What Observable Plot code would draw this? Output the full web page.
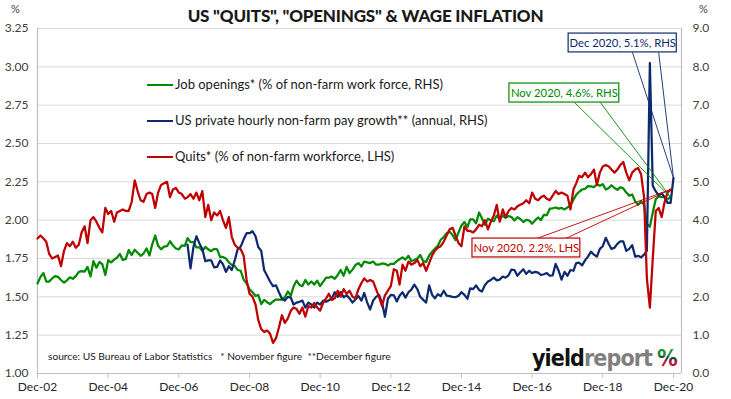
<!DOCTYPE html>
<html>
<head>
<meta charset="utf-8">
<script src="https://cdn.jsdelivr.net/npm/d3@7"></script>
<script src="https://cdn.jsdelivr.net/npm/@observablehq/plot@0.6"></script>
<style>
  body { margin: 0; background: #fff; }
  #wrap { position: relative; width: 731px; height: 399px; overflow: hidden; font-family: Lato, "Open Sans", sans-serif; color: #262626; }
  #chart { position: absolute; left: 0; top: 0; }
  .abs { position: absolute; white-space: nowrap; }
  #title { left: 0; width: 731px; top: 5px; text-align: center; font-weight: 900; font-size: 17px; line-height: 22px; color: #1a1a1a; letter-spacing: -0.2px; }
  .pct { top: 2px; font-size: 11px; color: #404040; }
  .leg { font-size: 13px; line-height: 16px; color: #1a1a1a; }
  .legline { position: absolute; width: 26px; height: 0; border-top: 2.5px solid; }
  #source { left: 48px; top: 350px; font-size: 10.2px; color: #1a1a1a; }
</style>
</head>
<body>
<div id="wrap">
  <div id="chart"></div>
  <div id="title" class="abs">US "QUITS", "OPENINGS" &amp; WAGE INFLATION</div>
  <div class="abs pct" style="left:11px">%</div>
  <div class="abs pct" style="left:699px">%</div>
  <div id="legend"></div>
  <div id="source" class="abs">source: US Bureau of Labor Statistics&nbsp;&nbsp;&nbsp;* November figure&nbsp;&nbsp;**December figure</div>
  <svg class="abs" style="left:528px;top:338px" width="165" height="34">
    <defs>
      <linearGradient id="pg" x1="0" y1="0" x2="0" y2="1">
        <stop offset="0" stop-color="#1e8a3a"/>
        <stop offset="0.42" stop-color="#1e8a3a"/>
        <stop offset="0.42" stop-color="#3a3a3a"/>
        <stop offset="0.62" stop-color="#3a3a3a"/>
        <stop offset="0.62" stop-color="#c8102e"/>
        <stop offset="1" stop-color="#c8102e"/>
      </linearGradient>
    </defs>
    <text x="4" y="28" font-family="'DejaVu Sans Condensed', 'DejaVu Sans'" font-weight="bold" font-size="23" letter-spacing="-0.9"><tspan fill="#111">yield</tspan><tspan fill="#7f7f7f">report</tspan><tspan dx="5" fill="url(#pg)">%</tspan></text>
  </svg>
</div>
<script>
// ---------------- DATA ----------------
// Monthly series, first value = Dec 2002 (pay growth starts Mar 2007)
const seriesStart = { year: 2002, month: 11 };
const payStartOffset = 51; // months after Dec 2002 -> Mar 2007

// Quits, % of non-farm workforce (LHS), Dec 2002 .. Nov 2020
const quits = [
  1.88,
  1.90,1.88,1.86,1.78,1.75,1.76,1.77,1.70,1.80,1.85,1.83,1.86,
  1.82,1.84,1.92,1.96,1.85,2.00,2.02,1.99,1.95,1.92,2.08,2.04,
  2.06,1.99,2.05,2.06,2.07,2.06,2.06,2.12,2.26,2.19,2.13,2.12,
  2.17,2.18,2.17,2.08,2.18,2.23,2.24,2.25,2.15,2.20,2.21,2.18,
  2.17,2.14,2.15,2.17,2.14,2.18,2.13,2.19,2.02,2.10,2.00,2.05,
  2.03,2.06,2.00,1.95,2.02,1.89,1.84,1.82,1.81,1.77,1.61,1.52,
  1.50,1.45,1.35,1.29,1.27,1.28,1.26,1.20,1.23,1.30,1.38,1.33,
  1.36,1.41,1.43,1.42,1.39,1.43,1.37,1.44,1.43,1.46,1.43,1.41,
  1.46,1.49,1.52,1.48,1.49,1.54,1.50,1.55,1.52,1.54,1.50,1.49,
  1.55,1.59,1.62,1.60,1.61,1.60,1.55,1.50,1.44,1.51,1.54,1.57,
  1.68,1.67,1.58,1.71,1.67,1.73,1.71,1.72,1.74,1.70,1.72,1.67,
  1.72,1.77,1.80,1.82,1.83,1.86,1.90,1.94,1.95,1.90,1.85,1.83,
  1.96,1.93,1.93,1.92,1.94,1.97,1.96,2.00,1.94,1.99,2.03,2.10,
  1.99,2.07,2.02,2.06,2.08,2.07,2.09,2.10,2.11,2.13,2.11,2.18,
  2.14,2.13,2.15,2.16,2.14,2.13,2.16,2.19,2.17,2.18,2.17,2.16,
  2.07,2.20,2.24,2.29,2.28,2.31,2.28,2.30,2.33,2.23,2.31,2.35,
  2.36,2.35,2.33,2.31,2.33,2.36,2.38,2.31,2.26,2.31,2.33,2.34,
  2.30,2.15,1.62,1.43,1.75,2.06,2.08,2.02,2.12,2.18,2.20
];

// Job openings, % of non-farm work force (RHS), Dec 2002 .. Nov 2020
const openings = [
  2.35,
  2.52,2.62,2.40,2.40,2.48,2.54,2.52,2.44,2.37,2.43,2.51,2.47,
  2.54,2.65,2.67,2.66,2.78,2.53,2.93,2.76,2.91,2.85,2.57,2.96,
  2.90,2.97,3.02,3.12,2.96,2.99,3.22,3.09,3.23,3.15,3.07,3.13,
  3.26,3.08,3.37,3.60,3.33,3.24,3.31,3.32,3.45,3.34,3.26,3.24,
  3.34,3.33,3.53,3.43,3.43,3.29,3.29,3.20,3.30,3.24,3.19,3.25,
  3.24,3.04,3.04,3.00,2.90,2.83,2.80,2.70,2.68,2.45,2.35,2.20,
  2.12,2.02,2.05,1.81,1.92,1.86,1.81,1.88,1.93,1.93,1.93,1.99,
  2.14,2.03,2.27,2.42,2.31,2.28,2.44,2.32,2.40,2.32,2.42,2.28,
  2.39,2.50,2.50,2.53,2.47,2.57,2.70,2.55,2.78,2.62,2.71,2.83,
  2.88,2.79,2.92,2.90,2.88,2.92,2.84,2.84,2.87,2.86,2.82,2.86,
  2.86,2.93,2.98,3.03,2.97,3.07,2.93,2.96,3.00,3.09,2.93,2.91,
  3.08,3.18,3.25,3.33,3.49,3.56,3.66,3.70,3.61,3.48,3.68,3.86,
  3.95,3.82,4.02,4.02,3.92,4.20,4.05,3.88,4.04,4.00,3.97,4.12,
  4.02,4.12,4.06,4.11,4.08,3.99,4.08,4.03,3.95,4.01,3.99,3.91,
  4.00,4.07,4.00,4.14,4.13,4.30,4.31,4.33,4.30,4.32,4.28,4.33,
  4.38,4.53,4.66,4.74,4.80,4.82,4.89,4.88,4.86,4.93,4.90,4.94,
  4.80,4.84,4.91,4.84,4.79,4.86,4.83,4.72,4.64,4.67,4.49,4.40,
  4.50,4.40,3.90,3.83,4.20,4.55,4.62,4.60,4.60,4.55,4.60
];

// US private hourly non-farm pay growth, % y/y (RHS), Mar 2007 .. Dec 2020
const payGrowth = [
  3.36,2.74,3.30,3.58,3.40,3.25,2.93,2.95,2.95,2.77,
  2.78,2.95,2.85,2.65,2.80,2.70,2.95,3.25,3.31,3.50,3.66,3.66,
  3.71,3.58,3.30,3.20,2.70,2.55,2.40,2.28,2.30,2.12,1.95,1.90,
  2.00,1.98,1.80,1.85,1.87,1.90,1.72,1.85,1.80,1.72,1.85,1.80,
  1.90,1.87,1.91,1.96,2.12,2.00,2.13,1.99,2.04,1.96,1.85,1.93,
  2.02,1.90,2.10,1.85,1.67,1.90,2.00,2.05,1.85,1.48,1.95,2.05,
  2.04,1.88,2.03,2.12,1.98,2.12,2.19,2.32,2.20,2.00,1.92,1.85,
  2.30,2.05,1.96,2.07,2.02,2.16,2.03,2.02,2.00,1.99,2.03,2.12,
  2.05,1.95,2.22,2.20,2.30,2.18,2.14,2.31,2.40,2.44,2.50,2.43,
  2.45,2.53,2.50,2.56,2.71,2.70,2.55,2.64,2.72,2.60,2.68,2.62,
  2.65,2.63,2.57,2.59,2.62,2.55,2.56,2.86,2.68,2.45,2.65,2.55,
  2.70,2.68,2.88,2.89,2.82,2.95,3.05,3.18,3.10,3.05,3.25,3.32,
  3.54,3.38,3.25,3.28,3.38,3.45,3.45,3.20,3.25,3.35,3.05,3.07,
  3.03,3.10,3.20,8.10,4.90,4.75,4.65,4.70,4.60,4.45,4.45,5.10
];

// Axis ticks
const lhsTicks = [1.00,1.25,1.50,1.75,2.00,2.25,2.50,2.75,3.00,3.25];
const xTickYears = [2002,2004,2006,2008,2010,2012,2014,2016,2018,2020];

// Series labels & colours
const seriesNames = [
  "Job openings* (% of non-farm work force, RHS)",
  "US private hourly non-farm pay growth** (annual, RHS)",
  "Quits* (% of non-farm workforce, LHS)"
];
const seriesColors = ["#008a00", "#0d2a6e", "#c00000"];

// Callouts: label, series, box extents (date, LHS-scale value), leader start dates
const callouts = [
  { label: "Dec 2020, 5.1%, RHS", series: 1, x1: "2017-12-13", x2: "2021-01-04", y1: 3.094, y2: 3.217, l1: "2019-10-04", l2: "2020-07-01", ly: 3.094 },
  { label: "Nov 2020, 4.6%, RHS", series: 0, x1: "2016-04-10", x2: "2019-05-21", y1: 2.767, y2: 2.891, l1: "2018-02-13", l2: "2018-11-07", ly: 2.767 },
  { label: "Nov 2020, 2.2%, LHS", series: 2, x1: "2015-03-25", x2: "2018-04-13", y1: 1.757, y2: 1.880, l1: "2017-01-16", l2: "2017-11-10", ly: 1.880 }
];

// ---------------- BUILD ----------------
const monthDate = i => new Date(Date.UTC(seriesStart.year, seriesStart.month + i, 1));
const rhsToLhs = v => v / 4 + 1;   // RHS 0..9  <->  LHS 1..3.25

const openData = openings.map((v, i) => ({ date: monthDate(i), y: rhsToLhs(v) }));
const payData = payGrowth.map((v, i) => ({ date: monthDate(i + payStartOffset), y: rhsToLhs(v) }));
const quitData = quits.map((v, i) => ({ date: monthDate(i), y: v }));
const allSeries = [openData, payData, quitData];

const xTicks = xTickYears.map(y => new Date(Date.UTC(y, 11, 1)));
const xDomain = [new Date(Date.UTC(2002, 11, 1)), new Date(Date.UTC(2021, 1, 22))];

const boxes = callouts.map(c => ({ ...c, color: seriesColors[c.series], x1: new Date(c.x1), x2: new Date(c.x2),
  xc: new Date((new Date(c.x1).getTime() + new Date(c.x2).getTime()) / 2), yc: (c.y1 + c.y2) / 2 }));
const leaders = [];
for (const b of boxes) {
  const last = allSeries[b.series][allSeries[b.series].length - 1];
  leaders.push({ x1: new Date(b.l1), y1: b.ly, x2: last.date, y2: last.y, color: b.color });
  leaders.push({ x1: new Date(b.l2), y1: b.ly, x2: last.date, y2: last.y, color: b.color });
}

const chart = Plot.plot({
  width: 731, height: 399,
  marginLeft: 37, marginRight: 50, marginTop: 28, marginBottom: 26,
  style: { fontFamily: "Lato, 'Open Sans', sans-serif", fontSize: "12px", color: "#404040", background: "transparent" },
  x: { type: "utc", domain: xDomain },
  y: { domain: [1, 3.25] },
  marks: [
    Plot.ruleY(lhsTicks, { stroke: "#d9d9d9", strokeWidth: 1 }),
    Plot.ruleX([xDomain[0]], { stroke: "#bfbfbf", strokeWidth: 1.2 }),
    Plot.ruleX([xDomain[1]], { stroke: "#bfbfbf", strokeWidth: 1.2 }),
    Plot.ruleY([1], { stroke: "#bfbfbf", strokeWidth: 1.2 }),
    Plot.axisY({ anchor: "left", ticks: lhsTicks, tickFormat: d3.format(".2f"), tickSize: 0, tickPadding: 9, label: null, fill: "#404040" }),
    Plot.axisY({ anchor: "right", ticks: lhsTicks, tickFormat: d => ((d - 1) * 4).toFixed(1), tickSize: 0, tickPadding: 11, label: null, fill: "#404040" }),
    Plot.axisX({ ticks: xTicks, tickFormat: d3.utcFormat("%b-%y"), tickSize: 5, tickPadding: 4, label: null, stroke: "#bfbfbf", fill: "#262626" }),
    Plot.line(openData, { x: "date", y: "y", stroke: seriesColors[0], strokeWidth: 2.25 }),
    Plot.line(payData, { x: "date", y: "y", stroke: seriesColors[1], strokeWidth: 2.25 }),
    Plot.line(quitData, { x: "date", y: "y", stroke: seriesColors[2], strokeWidth: 2.25 }),
    Plot.link(leaders, { x1: "x1", y1: "y1", x2: "x2", y2: "y2", stroke: "color", strokeWidth: 0.9 }),
    Plot.rect(boxes, { x1: "x1", x2: "x2", y1: "y1", y2: "y2", fill: "white", stroke: "color", strokeWidth: 1.2 }),
    Plot.text(boxes, { x: "xc", y: "yc", text: "label", fill: "color", fontSize: 11.3, textAnchor: "middle" })
  ]
});
document.getElementById("chart").appendChild(chart);

// Legend (inside plot area, upper-left)
const legend = document.getElementById("legend");
const legendTops = [85, 121, 157];
seriesNames.forEach((name, i) => {
  const ln = document.createElement("div");
  ln.className = "legline";
  ln.style.left = "147px"; ln.style.top = (legendTops[i] - 1) + "px";
  ln.style.borderTopColor = seriesColors[i];
  legend.appendChild(ln);
  const tx = document.createElement("div");
  tx.className = "abs leg";
  tx.style.left = "175px"; tx.style.top = (legendTops[i] - 9) + "px";
  tx.textContent = name;
  legend.appendChild(tx);
});
</script>
</body>
</html>
